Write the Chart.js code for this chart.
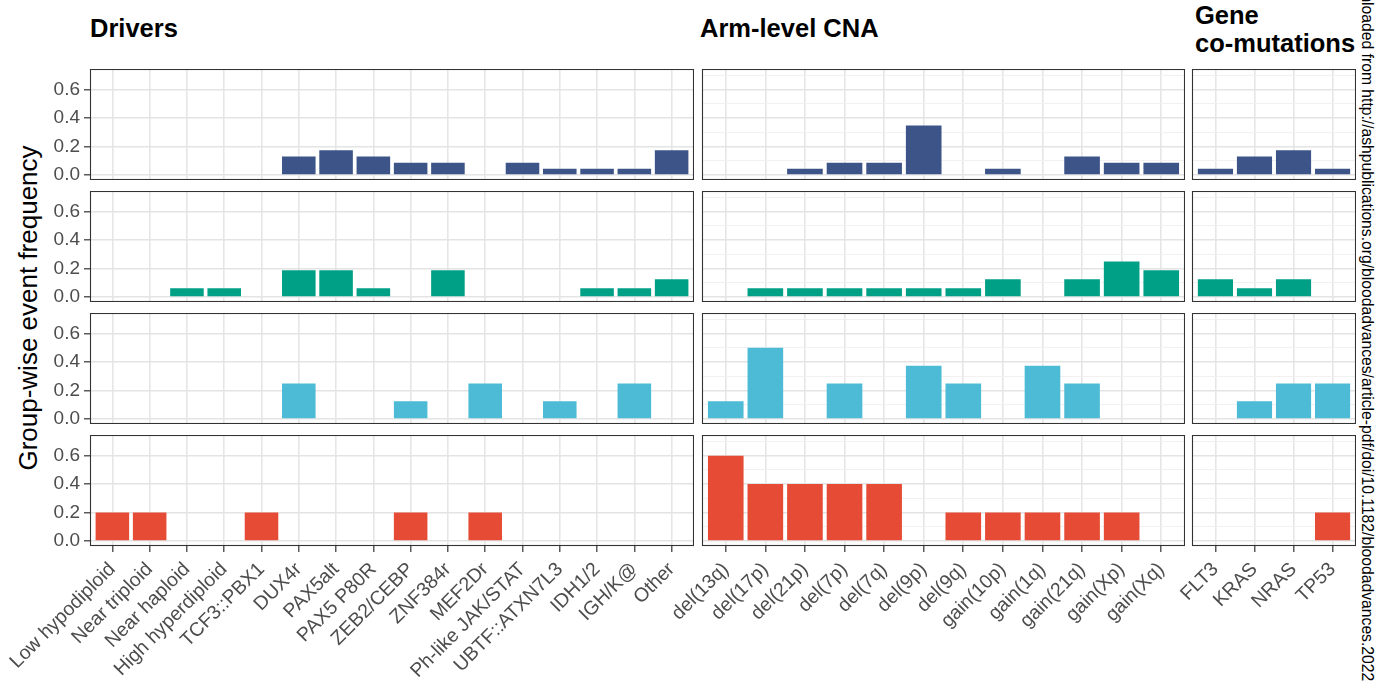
<!DOCTYPE html>
<html>
<head>
<meta charset="utf-8">
<script src="https://cdn.jsdelivr.net/npm/chart.js@4.4.1/dist/chart.umd.min.js"></script>
<style>
  body { margin: 0; width: 1375px; height: 688px; background: #fff; position: relative; overflow: hidden; font-family: "Liberation Sans", Arial, sans-serif; }
  canvas { position: absolute; }
  .strip { position: absolute; font-weight: bold; font-size: 25.5px; color: #000; line-height: 28px; }
  #ytitle { position: absolute; left: -172px; top: 293px; width: 400px; height: 30px; line-height: 30px; text-align: center; font-size: 26px; transform: rotate(-90deg); }
  #watermark { position: absolute; left: 967px; top: 352px; width: 800px; height: 20px; line-height: 20px; font-size: 15.7px; white-space: nowrap; transform: rotate(90deg); }
</style>
</head>
<body>
<div class="strip" style="left:90px; top:14px;">Drivers</div>
<div class="strip" style="left:700px; top:14px;">Arm-level CNA</div>
<div class="strip" style="left:1195px; top:1px;">Gene<br>co-mutations</div>
<div id="ytitle">Group-wise event frequency</div>
<div id="watermark">Downloaded from http://ashpublications.org/bloodadvances/article-pdf/doi/10.1182/bloodadvances.2022</div>

<script>
// categories
const driverLabels = ["Low hypodiploid", "Near triploid", "Near haploid", "High hyperdiploid", "TCF3::PBX1",
  "DUX4r", "PAX5alt", "PAX5 P80R", "ZEB2/CEBP", "ZNF384r", "MEF2Dr", "Ph-like JAK/STAT",
  "UBTF::ATXN7L3", "IDH1/2", "IGH/K@", "Other"];
const armLabels = ["del(13q)", "del(17p)", "del(21p)", "del(7p)", "del(7q)", "del(9p)", "del(9q)",
  "gain(10p)", "gain(1q)", "gain(21q)", "gain(Xp)", "gain(Xq)"];
const geneLabels = ["FLT3", "KRAS", "NRAS", "TP53"];

// values, one array per row (group) and panel
const driversBlue  = [0, 0, 0, 0, 0, 0.13, 0.174, 0.13, 0.087, 0.087, 0, 0.087, 0.0435, 0.0435, 0.0435, 0.174];
const driversGreen = [0, 0, 0.0625, 0.0625, 0, 0.1875, 0.1875, 0.0625, 0, 0.1875, 0, 0, 0, 0.0625, 0.0625, 0.125];
const driversCyan  = [0, 0, 0, 0, 0, 0.25, 0, 0, 0.125, 0, 0.25, 0, 0.125, 0, 0.25, 0];
const driversRed   = [0.2, 0.2, 0, 0, 0.2, 0, 0, 0, 0.2, 0, 0.2, 0, 0, 0, 0, 0];

const armBlue  = [0, 0, 0.0435, 0.087, 0.087, 0.348, 0, 0.0435, 0, 0.13, 0.087, 0.087];
const armGreen = [0, 0.0625, 0.0625, 0.0625, 0.0625, 0.0625, 0.0625, 0.125, 0, 0.125, 0.25, 0.1875];
const armCyan  = [0.125, 0.5, 0, 0.25, 0, 0.375, 0.25, 0, 0.375, 0.25, 0, 0];
const armRed   = [0.6, 0.4, 0.4, 0.4, 0.4, 0, 0.2, 0.2, 0.2, 0.2, 0.2, 0];

const geneBlue  = [0.0435, 0.13, 0.174, 0.0435];
const geneGreen = [0.125, 0.0625, 0.125, 0];
const geneCyan  = [0, 0.125, 0.25, 0.25];
const geneRed   = [0, 0, 0, 0.2];

const yTicks = [0, 0.1, 0.2, 0.3, 0.4, 0.5, 0.6, 0.7];
const rowColors = ["#3C5488", "#00A087", "#4DBBD5", "#E64B35"];

const rows = [
  [driversBlue, armBlue, geneBlue],
  [driversGreen, armGreen, geneGreen],
  [driversCyan, armCyan, geneCyan],
  [driversRed, armRed, geneRed]
];
const colLabels = [driverLabels, armLabels, geneLabels];

// layout
const rowTops = [69, 191, 313, 435];
const panelH = 111;
const cols = [{ left: 90, width: 604 }, { left: 702, width: 483 }, { left: 1192, width: 164 }];
const L = 90, B = 142;

const isMajor = v => Math.round(v * 10) % 2 === 0;

const framePlugin = {
  id: "frame",
  afterDatasetsDraw(chart) {
    const a = chart.chartArea, ctx = chart.ctx;
    ctx.save();
    ctx.strokeStyle = "#333333";
    ctx.lineWidth = 1.1;
    ctx.strokeRect(Math.round(a.left) + 0.5, Math.round(a.top) + 0.5,
      Math.round(a.right - a.left) - 1, Math.round(a.bottom - a.top) - 1);
    ctx.restore();
  }
};

rows.forEach((rowData, r) => {
  rowData.forEach((values, c) => {
    const col = cols[c];
    const labels = colLabels[c];
    const bottom = r === 3;
    const leftCol = c === 0;
    const canvas = document.createElement("canvas");
    const w = col.width + L, h = panelH + (bottom ? B : 0);
    canvas.width = w; canvas.height = h;
    canvas.style.left = (col.left - L) + "px";
    canvas.style.top = rowTops[r] + "px";
    canvas.style.width = w + "px"; canvas.style.height = h + "px";
    document.body.appendChild(canvas);

    new Chart(canvas.getContext("2d"), {
      type: "bar",
      data: {
        datasets: [{
          data: values.map((v, i) => ({ x: i, y: v })),
          backgroundColor: rowColors[r],
          borderWidth: 0,
          barPercentage: 0.9,
          categoryPercentage: 1
        }]
      },
      options: {
        responsive: false,
        animation: false,
        devicePixelRatio: 1,
        layout: { padding: 0 },
        plugins: { legend: { display: false }, tooltip: { enabled: false } },
        scales: {
          x: {
            type: "linear",
            min: -0.6,
            max: labels.length - 0.4,
            offset: false,
            afterBuildTicks: s => { s.ticks = labels.map((_, i) => ({ value: i })); },
            afterFit: s => { s.height = bottom ? B : 0; s.paddingLeft = 0; s.paddingRight = 0; },
            border: { display: false },
            grid: {
              offset: false,
              color: "#E6E6E6",
              lineWidth: 1.6,
              drawTicks: bottom,
              tickLength: 6,
              tickColor: "#333333",
              tickWidth: 1.2
            },
            ticks: {
              display: bottom,
              autoSkip: false,
              minRotation: 45,
              maxRotation: 45,
              padding: 6,
              color: "#4D4D4D",
              font: { family: "Liberation Sans", size: 19.5 },
              callback: v => labels[v]
            }
          },
          y: {
            min: -0.035,
            max: 0.745,
            afterBuildTicks: s => { s.ticks = yTicks.map(v => ({ value: v })); },
            afterFit: s => { s.width = L; s.paddingTop = 0; s.paddingBottom = 0; },
            border: { display: false },
            grid: {
              color: ctx => isMajor(ctx.tick.value) ? "#E4E4E4" : "#EFEFEF",
              lineWidth: ctx => isMajor(ctx.tick.value) ? 1.6 : 0.9,
              drawTicks: leftCol,
              tickLength: 6,
              tickColor: ctx => isMajor(ctx.tick.value) ? "#333333" : "rgba(0,0,0,0)",
              tickWidth: 1.2
            },
            ticks: {
              display: leftCol,
              padding: 4,
              color: "#4D4D4D",
              font: { family: "Liberation Sans", size: 19 },
              callback: v => isMajor(v) ? v.toFixed(1) : ""
            }
          }
        }
      },
      plugins: [framePlugin]
    });
  });
});
</script>
</body>
</html>
